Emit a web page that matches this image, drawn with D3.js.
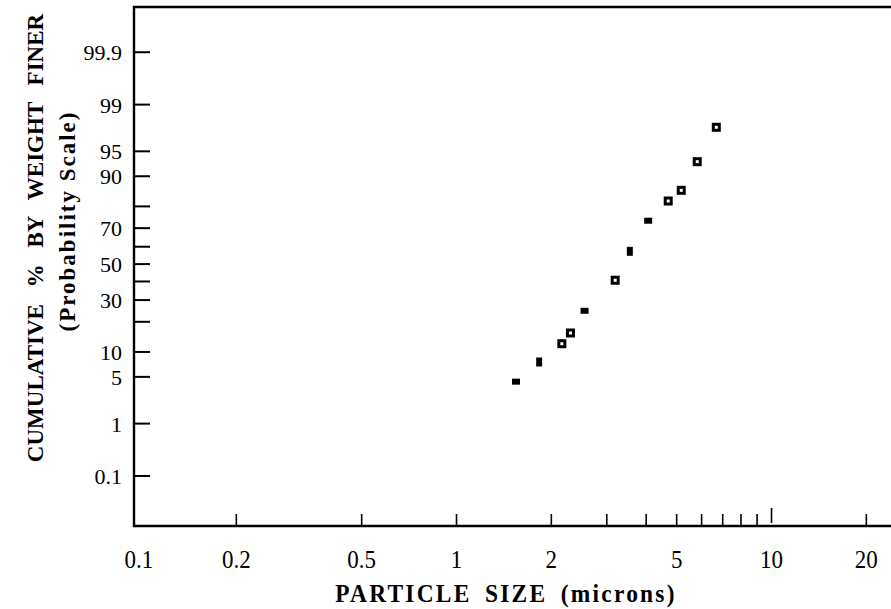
<!DOCTYPE html>
<html>
<head>
<meta charset="utf-8">
<script src="https://cdn.jsdelivr.net/npm/d3@7"></script>
<style>
html,body{margin:0;padding:0;background:#fff;}
svg{display:block;}
text{font-family:"Liberation Serif","Times New Roman",serif;fill:#000;}
</style>
</head>
<body>
<svg id="chart" width="891" height="609"></svg>
<script>
// ---- data ----
const openSize = [6.68, 5.81, 5.17, 4.70, 3.19, 2.30, 2.16];
const openPct  = [97.7, 93.24, 85.91, 82.13, 40.7, 15.75, 12.28];
const filledSize = [4.06, 3.55, 2.55, 1.83, 1.545];
const filledPct  = [73.66, 57.4, 24.8, 7.67, 4.32];
const filledOrient = ["wide", "tall", "wide", "tall", "wide"];

const xTickLabels = ["0.1", "0.2", "0.5", "1", "2", "5", "10", "20"];
const xTickValues = [0.1, 0.2, 0.5, 1, 2, 5, 10, 20];
const xMinorTicks = [0.2, 0.5, 1, 2, 3, 4, 5, 6, 7, 8, 9, 20];
const yTickLabels = ["0.1", "1", "5", "10", "30", "50", "70", "90", "95", "99", "99.9"];
const yTickValues = [0.1, 1, 5, 10, 30, 50, 70, 90, 95, 99, 99.9];
const yMinorTicks = [20, 40, 60, 80];

// inverse normal CDF (Acklam)
function probit(p) {
  const a=[-3.969683028665376e+01,2.209460984245205e+02,-2.759285104469687e+02,1.383577518672690e+02,-3.066479806614716e+01,2.506628277459239e+00];
  const b=[-5.447609879822406e+01,1.615858368580409e+02,-1.556989798598866e+02,6.680131188771972e+01,-1.328068155288572e+01];
  const c=[-7.784894002430293e-03,-3.223964580411365e-01,-2.400758277161838e+00,-2.549732539343734e+00,4.374664141464968e+00,2.938163982698783e+00];
  const d=[7.784695709041462e-03,3.224671290700398e-01,2.445134137142996e+00,3.754408661907416e+00];
  const pl=0.02425, ph=1-pl;
  let q,r;
  if(p<pl){q=Math.sqrt(-2*Math.log(p));return (((((c[0]*q+c[1])*q+c[2])*q+c[3])*q+c[4])*q+c[5])/((((d[0]*q+d[1])*q+d[2])*q+d[3])*q+1);}
  if(p<=ph){q=p-0.5;r=q*q;return (((((a[0]*r+a[1])*r+a[2])*r+a[3])*r+a[4])*r+a[5])*q/(((((b[0]*r+b[1])*r+b[2])*r+b[3])*r+b[4])*r+1);}
  q=Math.sqrt(-2*Math.log(1-p));return -(((((c[0]*q+c[1])*q+c[2])*q+c[3])*q+c[4])*q+c[5])/((((d[0]*q+d[1])*q+d[2])*q+d[3])*q+1);
}

const svg = d3.select("#chart");
const plotL = 134, plotT = 7, plotB = 526, plotR = 900;

const x = d3.scaleLog().domain([0.1, 10]).range([141.5, 771.5]);
const zScale = d3.scaleLinear().domain([-3.82, 3.75]).range([plotB, plotT]);
const y = p => zScale(probit(p / 100));

// frame
svg.append("path")
  .attr("d", `M${plotR},${plotT}H${plotL}V${plotB}H${plotR}`)
  .attr("fill", "none").attr("stroke", "#000").attr("stroke-width", 2.4);

// y ticks
const yAll = yTickValues.concat(yMinorTicks);
svg.append("g").selectAll("line").data(yAll).join("line")
  .attr("x1", plotL).attr("x2", plotL + 16)
  .attr("y1", d => y(d)).attr("y2", d => y(d))
  .attr("stroke", "#000").attr("stroke-width", 2);

svg.append("g").selectAll("text").data(yTickValues).join("text")
  .attr("x", 122).attr("y", d => y(d))
  .attr("text-anchor", "end").attr("dy", "0.36em")
  .style("font-size", "22px")
  .text((d, i) => yTickLabels[i]);

// x ticks
svg.append("g").selectAll("line").data(xMinorTicks).join("line")
  .attr("x1", d => x(d)).attr("x2", d => x(d))
  .attr("y1", plotB).attr("y2", plotB - 12)
  .attr("stroke", "#000").attr("stroke-width", 1.6);
svg.append("line")
  .attr("x1", x(10)).attr("x2", x(10))
  .attr("y1", plotB - 3).attr("y2", plotB - 18)
  .attr("stroke", "#000").attr("stroke-width", 1.6);

svg.append("g").selectAll("text").data(xTickValues).join("text")
  .attr("transform", d => `translate(${d === 0.1 ? 139 : x(d)},568) scale(0.92,1)`)
  .attr("text-anchor", "middle")
  .style("font-size", "25px")
  .text((d, i) => xTickLabels[i]);

// axis titles
svg.append("text")
  .attr("transform", "translate(506,602) scale(0.9,1)")
  .attr("text-anchor", "middle")
  .style("font-size", "26px").style("font-weight", "bold")
  .style("word-spacing", "6px").style("letter-spacing", "2.5px")
  .text("PARTICLE SIZE (microns)");

svg.append("text")
  .attr("transform", "translate(43,238) rotate(-90)")
  .attr("text-anchor", "middle")
  .style("font-size", "23px").style("font-weight", "bold")
  .style("word-spacing", "11px")
  .text("CUMULATIVE % BY WEIGHT FINER");

svg.append("text")
  .attr("transform", "translate(75,221) rotate(-90)")
  .attr("text-anchor", "middle")
  .style("font-size", "23px").style("font-weight", "bold")
  .style("letter-spacing", "2px")
  .text("(Probability Scale)");

// open squares
const og = svg.append("g").selectAll("g").data(openSize).join("g")
  .attr("transform", (d, i) => `translate(${x(d)},${y(openPct[i])})`);
og.append("rect").attr("x", -4.5).attr("y", -4.5).attr("width", 9).attr("height", 9).attr("fill", "#000");
og.append("rect").attr("x", -1.5).attr("y", -1.5).attr("width", 3).attr("height", 3).attr("fill", "#fff");

// filled squares
svg.append("g").selectAll("rect").data(filledSize).join("rect")
  .attr("x", (d, i) => x(d) - (filledOrient[i] === "wide" ? 4 : 3))
  .attr("y", (d, i) => y(filledPct[i]) - (filledOrient[i] === "wide" ? 3 : 4.5))
  .attr("width", (d, i) => filledOrient[i] === "wide" ? 8 : 6)
  .attr("height", (d, i) => filledOrient[i] === "wide" ? 6 : 9)
  .attr("fill", "#000");
</script>
</body>
</html>
